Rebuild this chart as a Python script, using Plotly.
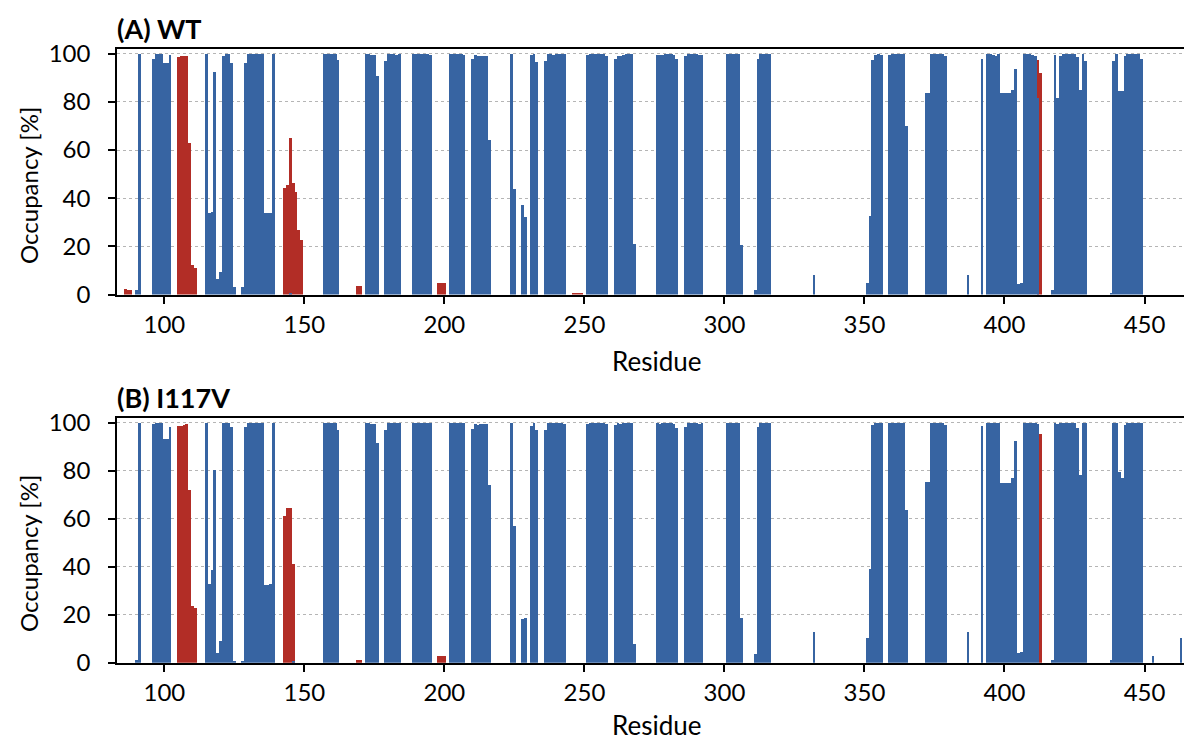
import plotly.graph_objects as go

# ---------------- data ----------------
wt_blue_res = [90, 91,
               96, 97, 98, 99, 100, 101, 102,
               115, 116, 117, 118, 119, 120, 121, 122, 123, 124, 125,
               128, 129, 130, 131, 132, 133, 134, 135, 136, 137, 138, 139,
               145,
               157, 158, 159, 160, 161, 162,
               172, 173, 174, 175, 176,
               179, 180, 181, 182, 183, 184,
               189, 190, 191, 192, 193, 194, 195,
               202, 203, 204, 205, 206, 207,
               210, 211, 212, 213, 214, 215, 216,
               224, 225, 228, 229,
               231, 232, 233,
               236, 237, 238, 239, 240, 241, 242, 243,
               251, 252, 253, 254, 255, 256, 257, 258,
               261, 262, 263, 264, 265, 266, 267, 268,
               276, 277, 278, 279, 280, 281, 282, 283,
               286, 287, 288, 289, 290, 291, 292,
               301, 302, 303, 304, 305, 306,
               311, 312, 313, 314, 315, 316,
               332,
               351, 352, 353, 354, 355, 356,
               359, 360, 361, 362, 363, 364, 365,
               372, 373, 374, 375, 376, 377, 378, 379,
               387, 392,
               394, 395, 396, 397, 398, 399, 400, 401, 402, 403, 404, 405, 406,
               407, 408, 409, 410, 411, 412,
               417, 418, 419, 420, 421, 422, 423, 424, 425, 426, 427, 428, 429,
               438, 439, 440, 441, 442, 443, 444, 445, 446, 447, 448, 449]
wt_blue_val = [1.8, 100,
               98, 100, 100, 100, 96, 96, 99.7,
               100, 33.9, 34.4, 92.6, 6.4, 9.3, 99.3, 100, 100, 96, 3,
               3, 96, 100, 100, 100, 100, 100, 100, 33.9, 33.9, 33.9, 100,
               0.3,
               100, 100, 100, 100, 100, 97.6,
               100, 100, 99.7, 99.7, 90.6,
               97.2, 100, 100, 100, 99.7, 100,
               100, 100, 100, 100, 100, 100, 99.7,
               100, 100, 100, 100, 100, 99.7,
               98, 99.7, 99.3, 99.2, 98.9, 98.9, 64.3,
               100, 43.9, 37.2, 32.2,
               99.7, 100, 96.4,
               97.2, 100, 100, 99.7, 100, 100, 100, 100,
               99.7, 100, 100, 100, 100, 100, 100, 99.3,
               98, 99.3, 99.3, 99.7, 100, 100, 100, 21,
               99.7, 99.7, 99.7, 100, 100, 100, 99.7, 98,
               98.9, 100, 100, 100, 100, 99.7, 99.7,
               100, 100, 100, 100, 100, 20.6,
               1.8, 98, 100, 100, 100, 100,
               8.1,
               4.7, 32.6, 97.6, 99.7, 100, 99.7,
               99.7, 100, 100, 100, 100, 100, 70.1,
               83.9, 83.9, 100, 100, 100, 100, 100, 99.3,
               8.1, 98,
               100, 100, 99.7, 99.3, 100, 83.9, 83.9, 83.9, 83.9, 85.1, 93.5, 4.3, 4.7,
               100, 100, 100, 99.7, 99.3, 81.8,
               1.8, 99.7, 81.8, 99.3, 100, 100, 100, 100, 100, 98.5, 85.1, 100, 97.2,
               0.5, 97.2, 100, 84.7, 84.7, 99.3, 100, 100, 100, 100, 100, 98]

wt_red_res = [86, 87, 88,
              105, 106, 107, 108, 109, 110, 111,
              143, 144, 145, 146, 147, 148, 149,
              169, 170,
              198, 199, 200,
              246, 247, 248, 249,
              412, 413]
wt_red_val = [2.3, 2.0, 1.8,
              98.5, 99, 99, 99.3, 63, 12.2, 11,
              44.3, 45.6, 65, 46.4, 42.6, 26.8, 22.6,
              3.5, 3.5,
              4.7, 4.7, 4.7,
              0.4, 0.4, 0.4, 0.4,
              97.6, 92.2]

mut_blue_res = [90, 91,
                96, 97, 98, 99, 100, 101, 102,
                115, 116, 117, 118, 119, 120, 121, 122, 123, 124, 125,
                128, 129, 130, 131, 132, 133, 134, 135, 136, 137, 138, 139,
                146,
                157, 158, 159, 160, 161, 162,
                172, 173, 174, 175, 176,
                179, 180, 181, 182, 183, 184,
                189, 190, 191, 192, 193, 194, 195,
                202, 203, 204, 205, 206, 207,
                210, 211, 212, 213, 214, 215, 216,
                224, 225, 228, 229,
                231, 232, 233,
                236, 237, 238, 239, 240, 241, 242, 243,
                251, 252, 253, 254, 255, 256, 257, 258,
                261, 262, 263, 264, 265, 266, 267, 268,
                276, 277, 278, 279, 280, 281, 282, 283,
                286, 287, 288, 289, 290, 291, 292,
                301, 302, 303, 304, 305, 306,
                311, 312, 313, 314, 315, 316,
                332,
                351, 352, 353, 354, 355, 356,
                359, 360, 361, 362, 363, 364, 365,
                372, 373, 374, 375, 376, 377, 378, 379,
                387, 392,
                394, 395, 396, 397, 398, 399, 400, 401, 402, 403, 404, 405, 406,
                407, 408, 409, 410, 411, 412,
                417, 418, 419, 420, 421, 422, 423, 424, 425, 426, 427, 428, 429,
                438, 439, 440, 441, 442, 443, 444, 445, 446, 447, 448, 449,
                453, 463]
mut_blue_val = [1.1, 100,
                99.4, 100, 100, 100, 93.2, 93.2, 98.2,
                100, 32.8, 38.6, 80.3, 4, 9, 100, 100, 100, 98.2, 0.7,
                0.7, 98.2, 100, 100, 100, 100, 100, 100, 32.4, 32.4, 32.8, 100,
                1.0,
                100, 100, 100, 100, 100, 96.9,
                100, 100, 99.4, 99.4, 91.5,
                96.9, 100, 100, 100, 100, 100,
                100, 100, 100, 100, 100, 100, 100,
                100, 100, 100, 100, 100, 100,
                97.4, 99.4, 99, 99.4, 99.4, 99.4, 74,
                100, 56.9, 18.2, 18.6,
                98.6, 100, 96.9,
                96.9, 100, 100, 100, 100, 100, 100, 99.4,
                99.4, 100, 100, 100, 100, 100, 100, 99.4,
                99, 100, 99.4, 100, 100, 100, 100, 7.8,
                100, 99.6, 100, 100, 100, 100, 99.4, 97.8,
                98.2, 100, 100, 100, 100, 99.4, 100,
                100, 100, 100, 100, 100, 18.6,
                3.6, 98.2, 100, 100, 100, 100,
                12.8,
                10.3, 39, 99, 100, 100, 100,
                100, 100, 100, 100, 100, 100, 63.6,
                75.3, 75.3, 100, 100, 100, 100, 100, 99,
                12.8, 98.6,
                100, 100, 100, 100, 100, 74.9, 74.9, 74.9, 74.9, 76.9, 92.4, 4, 4.4,
                100, 100, 100, 100, 100, 99.4,
                1.1, 100, 99.4, 100, 100, 100, 100, 100, 100, 97.8, 78.2, 100, 100,
                1.1, 100, 100, 79.4, 76.9, 99, 100, 100, 100, 100, 100, 100,
                2.8, 10.3]

mut_red_res = [105, 106, 107, 108, 109, 110, 111,
               143, 144, 145, 146,
               169, 170,
               198, 199, 200,
               413]
mut_red_val = [98.6, 98.6, 99, 99.4, 71.9, 23.6, 22.8,
               61.1, 64.4, 64.4, 41.1,
               1.1, 1.1,
               2.8, 2.8, 2.8,
               95.3]

panel_titles = ["(A) WT", "(B) I117V"]
x_title = "Residue"
y_title = "Occupancy [%]"
x_ticks = [100, 150, 200, 250, 300, 350, 400, 450]
y_ticks = [0, 20, 40, 60, 80, 100]

# ---------------- style ----------------
BLUE = "#3764a2"
RED = "#b22d26"
FONT = "Lato, 'Open Sans', sans-serif"
W, H = 1184, 740
x_dom = [117 / W, 1.0]
panel_px = [(49, 294.5), (417.7, 662.7)]          # top / bottom pixel rows of each axes box
y_doms = [[(H - b) / H, (H - t) / H] for t, b in panel_px]
xtitle_px = [361, 725]
ytitle_px = [186, 554]

fig = go.Figure()
panels = [(wt_blue_res, wt_blue_val, wt_red_res, wt_red_val),
          (mut_blue_res, mut_blue_val, mut_red_res, mut_red_val)]
for i, (br, bv, rr, rv) in enumerate(panels):
    xa = "x" if i == 0 else "x2"
    ya = "y" if i == 0 else "y2"
    fig.add_trace(go.Bar(x=rr, y=rv, width=1, marker=dict(color=RED, line=dict(width=0)),
                         xaxis=xa, yaxis=ya, showlegend=False, hoverinfo="x+y"))
    fig.add_trace(go.Bar(x=br, y=bv, width=1, marker=dict(color=BLUE, line=dict(width=0)),
                         xaxis=xa, yaxis=ya, showlegend=False, hoverinfo="x+y"))

common_x = dict(range=[83.1, 464.1], tickvals=x_ticks, ticks="outside", ticklen=8, tickwidth=1.5,
                tickcolor="black", showline=True, linecolor="black", linewidth=1.5, mirror=True,
                showgrid=False, zeroline=False, automargin=False,
                tickfont=dict(family=FONT, size=24, color="black"))
common_y = dict(range=[0, 102], tickvals=y_ticks, ticks="outside", ticklen=7, tickwidth=1.5,
                tickcolor="black", showline=True, linecolor="black", linewidth=1.5,
                showgrid=True, gridcolor="#b5b5b5", gridwidth=1, griddash="dot", zeroline=False,
                automargin=False, ticklabelstandoff=13,
                tickfont=dict(family=FONT, size=24, color="black"))

fig.update_layout(
    width=W, height=H,
    margin=dict(l=0, r=0, t=0, b=0, autoexpand=False),
    paper_bgcolor="white", plot_bgcolor="white",
    barmode="overlay", bargap=0,
    xaxis=dict(domain=x_dom, anchor="y", **common_x),
    yaxis=dict(domain=y_doms[0], anchor="x", **common_y),
    xaxis2=dict(domain=x_dom, anchor="y2", **common_x),
    yaxis2=dict(domain=y_doms[1], anchor="x2", **common_y),
)

for i, t in enumerate(panel_titles):
    fig.add_annotation(text="<b>" + t + "</b>", xref="paper", yref="paper",
                       x=x_dom[0], y=y_doms[i][1], xanchor="left", yanchor="middle",
                       showarrow=False, yshift=20, xshift=-2,
                       font=dict(family=FONT, size=27, color="black"))
    fig.add_annotation(text=x_title, xref="paper", yref="paper",
                       x=656 / W, y=(H - xtitle_px[i]) / H, xanchor="center", yanchor="middle",
                       showarrow=False, font=dict(family=FONT, size=26, color="black"))
    fig.add_annotation(text=y_title, xref="paper", yref="paper", textangle=-90,
                       x=28 / W, y=(H - ytitle_px[i]) / H, xanchor="center", yanchor="middle",
                       showarrow=False, font=dict(family=FONT, size=24, color="black"))

fig.write_html("out.html")
